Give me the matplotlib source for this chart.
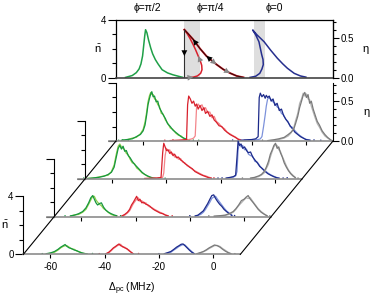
import matplotlib
matplotlib.use("Agg")
import matplotlib.pyplot as plt
from matplotlib.lines import Line2D

plt.rcParams["font.family"] = ["Liberation Sans", "DejaVu Sans"]
plt.rcParams["mathtext.fontset"] = "custom"
plt.rcParams["mathtext.rm"] = "Liberation Sans"
plt.rcParams["mathtext.it"] = "Liberation Sans:italic"
plt.rcParams["axes.unicode_minus"] = False

# ---- top panel: theory curves (detuning in MHz, mean photon number) ----
GREEN_TOP_X = [-66.5, -64, -62.5, -61.5, -60.8, -60.2, -59.8, -59.4, -59.1, -58.6, -58, -57.2,
               -56.5, -55.5, -54.5, -53, -51, -49, -47, -45.5]
GREEN_TOP_N = [0.02, 0.15, 0.35, 0.6, 0.95, 1.5, 2.2, 2.9, 3.31, 3.1, 2.6, 2.05,
               1.65, 1.25, 0.95, 0.55, 0.33, 0.2, 0.1, 0.03]
RED_LOW_X = [-43.5, -41.5, -40, -38.8, -38.3, -38.4, -38.9, -39.7, -40.6, -41.6, -42.7, -43.8, -44.8]
RED_LOW_N = [0.0, 0.04, 0.12, 0.3, 0.55, 0.85, 1.15, 1.5, 1.9, 2.3, 2.7, 3.05, 3.31]
RED_UP_X = [-44.8, -43.5, -41.6, -39, -36.7, -34.5, -33, -30.5, -28, -25.5, -23]
RED_UP_N = [3.31, 3.05, 2.65, 2.0, 1.5, 1.15, 0.92, 0.58, 0.32, 0.12, 0.02]
RED_OFF_X = [-52.5, -44.8]
RED_OFF_N = [0.0, 0.0]
BLUE_TOP_X = [-20.6, -18.5, -17, -16.2, -15.7, -15.8, -16.3, -17.3, -18.5, -19.6, -18, -15.4,
              -13, -10.5, -8.5, -6.8, -4.3, -2, 0]
BLUE_TOP_N = [0.02, 0.1, 0.3, 0.6, 0.9, 1.25, 1.6, 2.48, 2.95, 3.29, 2.95, 2.48,
              1.9, 1.34, 0.95, 0.65, 0.3, 0.12, 0.04]
BISTABLE_BANDS = [(-44.8, -38.9), (-19.3, -15.2)]
PHI_LABELS = ["\u03d5=\u03c0/2", "\u03d5=\u03c0/4", "\u03d5=0"]

# ---- measured traces, back layer (1) to front layer (4) ----
G1_X = [-68, -66, -64, -62.5, -61, -60, -59.3, -58.7, -58.2, -57.7, -57.2, -56.8, -56.3, -55.8, -55.2,
        -54.6, -54, -53.3, -52.6, -51.8, -51, -50, -49, -48, -47, -46, -45, -44, -43]
G1_DARK = [0.05, 0.1, 0.15, 0.3, 0.45, 0.7, 1.1, 1.8, 2.5, 2.9, 3.25, 3.4, 3.05, 3.1, 2.7,
           2.75, 2.3, 2.05, 1.8, 1.55, 1.2, 1.0, 0.75, 0.6, 0.45, 0.3, 0.2, 0.12, 0.05]
G1_LIGHT = [0.02, 0.08, 0.2, 0.25, 0.5, 0.8, 1.3, 2.0, 2.7, 3.1, 3.35, 3.2, 3.2, 2.9, 2.85,
            2.5, 2.4, 1.9, 1.85, 1.45, 1.25, 0.9, 0.8, 0.55, 0.4, 0.35, 0.15, 0.1, 0.03]
R1_X = [-50, -47, -45, -44, -43.6, -43.2, -42.6, -42, -41.4, -40.8, -40.3, -39.7, -39, -38.3, -37.6,
        -37, -36.2, -35.4, -34.6, -33.8, -33, -32, -31, -30, -29, -28, -27, -26, -25, -24]
R1_DARK = [0.03, 0.05, 0.08, 0.1, 2.5, 3.1, 2.9, 2.6, 2.75, 2.4, 2.55, 2.2, 2.45, 2.1, 2.3,
           1.9, 2.05, 1.7, 1.8, 1.45, 1.3, 1.05, 1.0, 0.75, 0.6, 0.45, 0.35, 0.25, 0.12, 0.05]
R1_LIGHT = [0.02, 0.04, 0.05, 0.06, 0.08, 0.1, 0.12, 0.15, 0.2, 0.35, 2.3, 2.55, 2.35, 2.5, 2.15,
            2.3, 1.95, 2.0, 1.6, 1.7, 1.35, 1.2, 0.95, 0.85, 0.6, 0.5, 0.38, 0.28, 0.15, 0.08]
B1_X = [-24, -22, -20, -18.5, -17.6, -17.2, -16.8, -16.2, -15.6, -15, -14.6, -14.1, -13.5, -12.8, -12.1,
        -11.4, -10.6, -9.8, -9, -8.2, -7.4, -6.6, -5.8, -5, -4, -3, -2, -1, 0, 1.5]
B1_DARK = [0.05, 0.08, 0.1, 0.15, 0.3, 3.0, 3.3, 3.05, 3.2, 2.95, 3.15, 3.0, 3.1, 2.75, 2.9,
           2.45, 2.6, 2.1, 2.2, 1.75, 1.5, 1.3, 1.05, 0.85, 0.6, 0.45, 0.3, 0.2, 0.1, 0.05]
B1_LIGHT = [0.03, 0.05, 0.06, 0.08, 0.1, 0.12, 0.15, 0.3, 1.0, 1.8, 2.4, 2.9, 3.0, 2.85, 2.7,
            2.6, 2.35, 2.25, 1.9, 1.8, 1.5, 1.35, 1.0, 0.95, 0.7, 0.5, 0.35, 0.22, 0.12, 0.06]
K1_X = [-14, -12, -10, -8, -6.5, -5.5, -4.5, -3.8, -3, -2.3, -1.6, -1, -0.4, 0.2, 0.8, 1.4, 2, 2.7,
        3.4, 4.2, 5, 6, 7, 8, 9]
K1_DARK = [0.03, 0.08, 0.15, 0.25, 0.45, 0.6, 0.8, 1.2, 1.7, 2.3, 2.75, 3.15, 3.35, 3.0, 3.2, 2.6,
           2.75, 2.2, 1.8, 1.35, 1.1, 0.7, 0.45, 0.25, 0.1]
K1_LIGHT = [0.02, 0.05, 0.1, 0.2, 0.35, 0.55, 0.9, 1.4, 1.9, 2.6, 2.9, 3.3, 3.1, 3.25, 2.9, 2.85,
            2.4, 2.0, 1.6, 1.2, 0.95, 0.6, 0.35, 0.2, 0.08]

G2_X = [-69, -67, -65, -63, -61.5, -60.3, -59.3, -58.5, -57.8, -57.2, -56.6, -56, -55.4, -54.8, -54.1,
        -53.4, -52.6, -51.8, -51, -50, -49, -48, -47, -46, -45, -44]
G2_DARK = [0.02, 0.06, 0.1, 0.18, 0.3, 0.45, 0.8, 1.5, 2.1, 2.3, 2.05, 2.25, 1.9, 1.95, 1.6,
           1.45, 1.2, 1.0, 0.85, 0.65, 0.45, 0.3, 0.2, 0.12, 0.06, 0.03]
G2_LIGHT = [0.03, 0.05, 0.12, 0.2, 0.25, 0.5, 0.95, 1.7, 2.25, 2.4, 2.2, 2.1, 2.0, 1.75, 1.65,
            1.35, 1.1, 1.05, 0.75, 0.6, 0.4, 0.3, 0.18, 0.1, 0.05, 0.02]
R2_X = [-48, -45, -43, -42, -41.4, -41.0, -40.5, -40, -39.4, -38.8, -38.2, -37.6, -37, -36.3, -35.6,
        -34.8, -34, -33.2, -32.4, -31.5, -30.5, -29.5, -28.5, -27.5, -26.5, -25.5, -24.5, -23.5]
R2_DARK = [0.02, 0.04, 0.06, 0.1, 1.8, 2.45, 2.2, 1.95, 2.0, 1.75, 1.85, 1.6, 1.7, 1.45, 1.5,
           1.3, 1.2, 1.05, 0.95, 0.8, 0.7, 0.5, 0.4, 0.3, 0.22, 0.15, 0.08, 0.04]
R2_LIGHT = [0.02, 0.03, 0.05, 0.06, 0.1, 0.4, 1.6, 2.1, 1.9, 2.0, 1.7, 1.75, 1.5, 1.55, 1.35,
            1.4, 1.15, 1.1, 0.9, 0.85, 0.65, 0.55, 0.45, 0.35, 0.25, 0.2, 0.12, 0.06]
B2_X = [-18, -16.5, -15.3, -14.5, -14.0, -13.6, -13.1, -12.5, -11.9, -11.2, -10.5, -9.8, -9, -8.2,
        -7.4, -6.5, -5.6, -4.6, -3.6, -2.6, -1.6, -0.5, 0.5, 1.5]
B2_DARK = [0.05, 0.1, 0.15, 0.25, 1.5, 2.6, 2.3, 2.4, 2.1, 2.2, 1.95, 1.8, 1.85, 1.5,
           1.3, 1.1, 0.85, 0.7, 0.5, 0.35, 0.25, 0.15, 0.08, 0.04]
B2_LIGHT = [0.03, 0.08, 0.12, 0.2, 0.5, 2.0, 2.45, 2.2, 2.3, 2.0, 2.05, 1.7, 1.6, 1.55,
            1.2, 1.15, 0.9, 0.65, 0.55, 0.4, 0.28, 0.18, 0.1, 0.05]
K2_X = [-9, -7.5, -6, -5, -4, -3.2, -2.4, -1.7, -1, -0.4, 0.2, 0.8, 1.4, 2, 2.7, 3.4, 4.2, 5, 5.8, 6.6, 7.5]
K2_DARK = [0.05, 0.1, 0.2, 0.3, 0.5, 0.8, 1.2, 1.7, 2.0, 2.3, 2.45, 2.1, 2.2, 1.8, 1.5, 1.1, 0.8,
           0.55, 0.35, 0.2, 0.08]
K2_LIGHT = [0.03, 0.08, 0.15, 0.25, 0.4, 0.7, 1.0, 1.5, 1.9, 2.2, 2.35, 2.3, 2.0, 1.9, 1.55, 1.25,
            0.9, 0.6, 0.4, 0.25, 0.1]

G3_X = [-64, -62.5, -61, -59.5, -58.3, -57.3, -56.5, -55.8, -55.2, -54.6, -54, -53.3, -52.6, -51.8,
        -51, -50, -49, -48, -47]
G3_DARK = [0.05, 0.1, 0.2, 0.35, 0.6, 0.95, 1.3, 1.45, 1.2, 0.95, 0.8, 0.9, 0.95, 0.65, 0.45, 0.3,
           0.2, 0.12, 0.06]
G3_LIGHT = [0.03, 0.12, 0.15, 0.3, 0.5, 0.85, 1.15, 1.4, 1.4, 1.15, 1.0, 0.85, 0.75, 0.55, 0.45,
            0.28, 0.15, 0.08, 0.04]
R3_X = [-45, -44, -43, -42.2, -41.5, -40.8, -40.2, -39.6, -39, -38.4, -37.7, -37, -36.2, -35.4,
        -34.6, -33.8, -33, -32, -31, -30, -29, -28]
R3_DARK = [0.05, 0.15, 0.3, 0.5, 0.8, 1.0, 1.2, 1.4, 1.1, 1.2, 0.95, 1.0, 0.85, 0.8, 0.7, 0.55,
           0.45, 0.35, 0.25, 0.2, 0.1, 0.05]
R3_LIGHT = [0.03, 0.1, 0.25, 0.4, 0.65, 0.9, 1.05, 1.2, 1.3, 1.05, 1.1, 0.9, 0.95, 0.75, 0.65, 0.6,
            0.5, 0.4, 0.3, 0.22, 0.12, 0.06]
B3_X = [-18, -17, -16, -15, -14.2, -13.4, -12.6, -11.9, -11.2, -10.5, -9.8, -9, -8.2, -7.4, -6.5,
        -5.5, -4.5]
B3_DARK = [0.05, 0.1, 0.25, 0.4, 0.65, 0.9, 1.2, 1.45, 1.5, 1.25, 1.05, 0.85, 0.7, 0.5, 0.35, 0.2, 0.08]
B3_LIGHT = [0.03, 0.08, 0.15, 0.3, 0.5, 0.75, 1.0, 1.25, 1.35, 1.4, 1.2, 1.0, 0.8, 0.6, 0.4, 0.25, 0.1]
K3_X = [-11, -9, -7, -5.5, -4, -3, -2, -1, 0, 0.8, 1.5, 2.3, 3.2, 4.2, 5.2, 6.3, 7.5, 8.5]
K3_DARK = [0.03, 0.06, 0.1, 0.2, 0.35, 0.55, 0.8, 1.1, 1.2, 1.35, 1.45, 1.2, 1.0, 0.75, 0.5, 0.3,
           0.15, 0.05]
K3_LIGHT = [0.02, 0.05, 0.08, 0.15, 0.3, 0.5, 0.75, 0.95, 1.15, 1.3, 1.25, 1.3, 1.05, 0.8, 0.55,
            0.35, 0.18, 0.06]

G4_X = [-61.5, -60, -58.5, -57.2, -56.2, -55.3, -54.6, -53.9, -53.1, -52.2, -51.2, -50.2, -49.2,
        -48.2, -47.2, -46.5]
G4_DARK = [0.05, 0.1, 0.2, 0.35, 0.5, 0.6, 0.68, 0.55, 0.45, 0.4, 0.3, 0.25, 0.15, 0.1, 0.05, 0.03]
G4_LIGHT = [0.03, 0.08, 0.15, 0.3, 0.45, 0.55, 0.6, 0.6, 0.5, 0.38, 0.35, 0.22, 0.18, 0.08, 0.06, 0.02]
R4_X = [-39.5, -38.5, -37.6, -36.8, -36, -35.3, -34.7, -34.1, -33.4, -32.6, -31.8, -31, -30.2, -29.5]
R4_DARK = [0.05, 0.15, 0.3, 0.45, 0.55, 0.65, 0.72, 0.6, 0.55, 0.45, 0.4, 0.25, 0.15, 0.05]
R4_LIGHT = [0.03, 0.1, 0.25, 0.4, 0.5, 0.6, 0.65, 0.7, 0.5, 0.5, 0.35, 0.3, 0.12, 0.04]
B4_X = [-18, -16.8, -15.6, -14.5, -13.5, -12.6, -11.8, -11.1, -10.4, -9.6, -8.8, -7.9, -7]
B4_DARK = [0.05, 0.12, 0.2, 0.35, 0.5, 0.6, 0.7, 0.72, 0.6, 0.45, 0.3, 0.15, 0.05]
B4_LIGHT = [0.03, 0.08, 0.15, 0.3, 0.42, 0.55, 0.62, 0.68, 0.65, 0.5, 0.35, 0.2, 0.06]
K4_X = [-6, -4.8, -3.6, -2.5, -1.5, -0.5, 0.5, 1.5, 2.5, 3.5, 4.5, 5.5, 6.5]
K4_DARK = [0.05, 0.12, 0.2, 0.32, 0.45, 0.55, 0.65, 0.6, 0.5, 0.35, 0.22, 0.12, 0.05]
K4_LIGHT = [0.03, 0.1, 0.18, 0.28, 0.4, 0.5, 0.6, 0.62, 0.55, 0.4, 0.28, 0.15, 0.06]

# stray points near the baseline: detuning, value, colour index (0 green .. 3 gray)
DOT1_X = [-69, -67.5, -65.5, -41.5, -39.5, -52, -49, -22.5, -27, -21, 3, 5.5, -19, -16, 9.5]
DOT1_N = [0.05, 0.08, 0.04, 0.06, 0.05, 0.05, 0.07, 0.05, 0.06, 0.04, 0.07, 0.05, 0.05, 0.06, 0.05]
DOT1_C = [0, 0, 0, 0, 0, 1, 1, 1, 2, 2, 2, 2, 3, 3, 3]
DOT2_X = [-70.5, -43, -40.5, -46, -22.5, -21, -19.5, 3, 4.5, -12, 8.5]
DOT2_N = [0.05, 0.06, 0.04, 0.05, 0.06, 0.05, 0.06, 0.05, 0.07, 0.05, 0.05]
DOT2_C = [0, 0, 0, 1, 1, 2, 2, 2, 2, 3, 3]
DOT3_X = [-66, -45.5, -44.5, -47, -26.5, -20, -3.5, -13, 9.5]
DOT3_N = [0.05, 0.06, 0.05, 0.06, 0.05, 0.06, 0.07, 0.05, 0.05]
DOT3_C = [0, 0, 0, 1, 1, 2, 2, 3, 3]
DOT4_X = [-63, -44.5, -42, -27.5, -20, -5, 8]
DOT4_N = [0.05, 0.06, 0.05, 0.06, 0.05, 0.06, 0.05]
DOT4_C = [0, 0, 1, 1, 2, 2, 3]

LAYERS = [
    [(G1_X, G1_DARK, G1_LIGHT), (R1_X, R1_DARK, R1_LIGHT), (B1_X, B1_DARK, B1_LIGHT), (K1_X, K1_DARK, K1_LIGHT)],
    [(G2_X, G2_DARK, G2_LIGHT), (R2_X, R2_DARK, R2_LIGHT), (B2_X, B2_DARK, B2_LIGHT), (K2_X, K2_DARK, K2_LIGHT)],
    [(G3_X, G3_DARK, G3_LIGHT), (R3_X, R3_DARK, R3_LIGHT), (B3_X, B3_DARK, B3_LIGHT), (K3_X, K3_DARK, K3_LIGHT)],
    [(G4_X, G4_DARK, G4_LIGHT), (R4_X, R4_DARK, R4_LIGHT), (B4_X, B4_DARK, B4_LIGHT), (K4_X, K4_DARK, K4_LIGHT)],
]
LAYER_DOTS = [(DOT1_X, DOT1_N, DOT1_C), (DOT2_X, DOT2_N, DOT2_C), (DOT3_X, DOT3_N, DOT3_C),
              (DOT4_X, DOT4_N, DOT4_C)]
DARK_COLORS = ["#17963f", "#d8202c", "#1c2a8a", "#7a7a7a"]
LIGHT_COLORS = ["#8fd14a", "#f3858a", "#7d92db", "#b5b5b5"]

X_TICKS = [-60, -40, -20, 0]

# ---- layout in pixels ----
W, H = 373, 300
PX_PER_MHZ = 217 / 80.0
TOP_LEFT, TOP_Y, TOP_H = 116, 19.7, 58
BASE0, DX, DY, LAYER_H = 141, -30.9, 37.8, 58
EXT = 2.6  # baseline extension (MHz) left of the spine
LABEL_OFF = 18.5  # n-bar label distance left of the spine, px
PHI_X = [-58.3, -35.2, -11.5]


def px_axes(fig, left, top, width, height):
    return fig.add_axes([left / W, 1 - (top + height) / H, width / W, height / H])


def style_eta(ax_eta):
    for s in ["left", "top", "bottom"]:
        ax_eta.spines[s].set_visible(False)
    ax_eta.set_ylim(0, 0.725)
    ax_eta.set_yticks([0, 0.5])
    ax_eta.set_yticklabels(["0.0", "0.5"])
    ax_eta.set_yticks([0.1, 0.2, 0.3, 0.4, 0.6, 0.7], minor=True)
    ax_eta.tick_params(axis="y", which="major", direction="out", length=4.3, width=0.8,
                       labelsize=7, pad=1.5)
    ax_eta.tick_params(axis="y", which="minor", direction="out", length=2.4, width=0.8)
    ax_eta.set_ylabel("\u03b7", fontsize=8, rotation=0, va="center")
    ax_eta.yaxis.set_label_coords(1.15, 0.5)


def style_left(ax, labels, label_x=None):
    ax.set_ylim(0, 4)
    ax.set_yticks([0, 4])
    ax.set_yticks([1, 2, 3], minor=True)
    ax.tick_params(axis="y", which="major", direction="out", length=5.5, width=0.8,
                   labelsize=7, pad=1.5)
    ax.tick_params(axis="y", which="minor", direction="out", length=2.9, width=0.8)
    if labels:
        ax.set_yticklabels(["0", "4"])
        ax.set_ylabel(r"$\bar{\mathrm{n}}$", fontsize=8, rotation=0, va="center")
        ax.yaxis.set_label_coords(label_x, 0.5)
    else:
        ax.set_yticklabels([])


fig = plt.figure(figsize=(W / 100, H / 100), dpi=100)

# ---- top panel ----
ax_top = px_axes(fig, TOP_LEFT, TOP_Y, 217, TOP_H)
ax_top.set_facecolor("none")
ax_top.set_xlim(-70, 10)
for lo, hi in BISTABLE_BANDS:
    ax_top.axvspan(lo, hi, color="#dedede", lw=0, zorder=0)
ax_top.plot(GREEN_TOP_X, GREEN_TOP_N, color="#1fa048", lw=1.1)
ax_top.plot(RED_OFF_X, RED_OFF_N, color="#9a9a9a", lw=1.1)
ax_top.plot(RED_LOW_X, RED_LOW_N, color="#d8202c", lw=1.1)
ax_top.plot(RED_UP_X, RED_UP_N, color="#d8202c", lw=1.4)
ax_top.plot(RED_UP_X, RED_UP_N, color="#3a0808", lw=0.8)
ax_top.plot([RED_LOW_X[-1], RED_LOW_X[-1]], [RED_LOW_N[-1], 0], color="#303030", lw=0.8)
ax_top.plot(BLUE_TOP_X, BLUE_TOP_N, color="#262f8e", lw=1.1)


def arrow(ax, x0, y0, x1, y1, color):
    ax.annotate("", xy=(x1, y1), xytext=(x0, y0),
                arrowprops=dict(arrowstyle="-|>,head_length=0.7,head_width=0.35", color=color,
                                lw=0, shrinkA=0, shrinkB=0, mutation_scale=6))


arrow(ax_top, RED_UP_X[3], RED_UP_N[3], RED_UP_X[2], RED_UP_N[2], "k")
arrow(ax_top, RED_UP_X[5], RED_UP_N[5], RED_UP_X[4], RED_UP_N[4], "k")
arrow(ax_top, RED_UP_X[5], RED_UP_N[5], RED_UP_X[6], RED_UP_N[6], "#888888")
arrow(ax_top, RED_UP_X[7], RED_UP_N[7], RED_UP_X[8], RED_UP_N[8], "#888888")
arrow(ax_top, RED_LOW_X[6], RED_LOW_N[6], RED_LOW_X[7], RED_LOW_N[7], "#888888")
arrow(ax_top, RED_LOW_X[0], RED_LOW_N[0], RED_LOW_X[1], RED_LOW_N[1], "#888888")
arrow(ax_top, RED_LOW_X[-1], RED_LOW_N[-1] * 0.6, RED_LOW_X[-1], RED_LOW_N[-1] * 0.45, "k")

style_left(ax_top, True, -LABEL_OFF / 217)
ax_top.set_xticks([])
for s in ax_top.spines.values():
    s.set_linewidth(0.9)
ax_top.spines["bottom"].set_color("#444444")
ax_top.spines["bottom"].set_linewidth(1.2)
for label, xp in zip(PHI_LABELS, PHI_X):
    ax_top.text(xp, 1.2, label, transform=ax_top.get_xaxis_transform(), ha="center",
                va="center", fontsize=7.5)
style_eta(ax_top.twinx())

# ---- waterfall layers, back to front ----
layer_axes = []
for k, groups in enumerate(LAYERS):
    spine_x = TOP_LEFT + DX * k
    base_y = BASE0 + DY * k
    left = spine_x - EXT * PX_PER_MHZ
    width = 217 + EXT * PX_PER_MHZ
    ax = px_axes(fig, left, base_y - LAYER_H, width, LAYER_H)
    ax.set_facecolor("none")
    ax.set_xlim(-70 - EXT, 10)
    for (x, dark, light), dc, lc in zip(groups, DARK_COLORS, LIGHT_COLORS):
        ax.plot(x, light, color=lc, lw=0.9)
        ax.plot(x, dark, color=dc, lw=0.9)
    dx, dn, dcol = LAYER_DOTS[k]
    ax.scatter(dx, dn, s=1.2, c=[DARK_COLORS[c] for c in dcol], lw=0)
    ax.spines["top"].set_visible(False)
    ax.spines["right"].set_visible(False)
    ax.spines["left"].set_position(("data", -70))
    ax.spines["left"].set_linewidth(0.8)
    ax.spines["bottom"].set_color("#8c8c8c")
    ax.spines["bottom"].set_linewidth(1.2)
    front = k == len(LAYERS) - 1
    if front:
        ax.spines["bottom"].set_bounds(-70, 10)
    style_left(ax, front, (spine_x - left - LABEL_OFF) / width)
    ax.set_xticks(X_TICKS)
    ax.tick_params(axis="x", direction="out", length=3, width=0.8, labelsize=7, pad=2.5)
    if front:
        ax.set_xticklabels([str(t) for t in X_TICKS])
        ax.set_xlabel(r"$\Delta_{\mathrm{pc}}$ (MHz)", fontsize=7.5)
        ax.xaxis.set_label_coords((spine_x + 108.5 - left) / width, -0.45)
    else:
        ax.set_xticklabels([])
    if k == 0:
        style_eta(ax.twinx())
    layer_axes.append(ax)

# ---- perspective edges joining the back and front layers ----
inv = fig.transFigure.inverted()
back, frontax = layer_axes[0], layer_axes[-1]
for xv in (-70, 10):
    p0 = inv.transform(back.transData.transform((xv, 0)))
    p1 = inv.transform(frontax.transData.transform((xv, 0)))
    fig.add_artist(Line2D([p0[0], p1[0]], [p0[1], p1[1]], color="k", lw=0.8))

fig.savefig("out.png", dpi=100)
